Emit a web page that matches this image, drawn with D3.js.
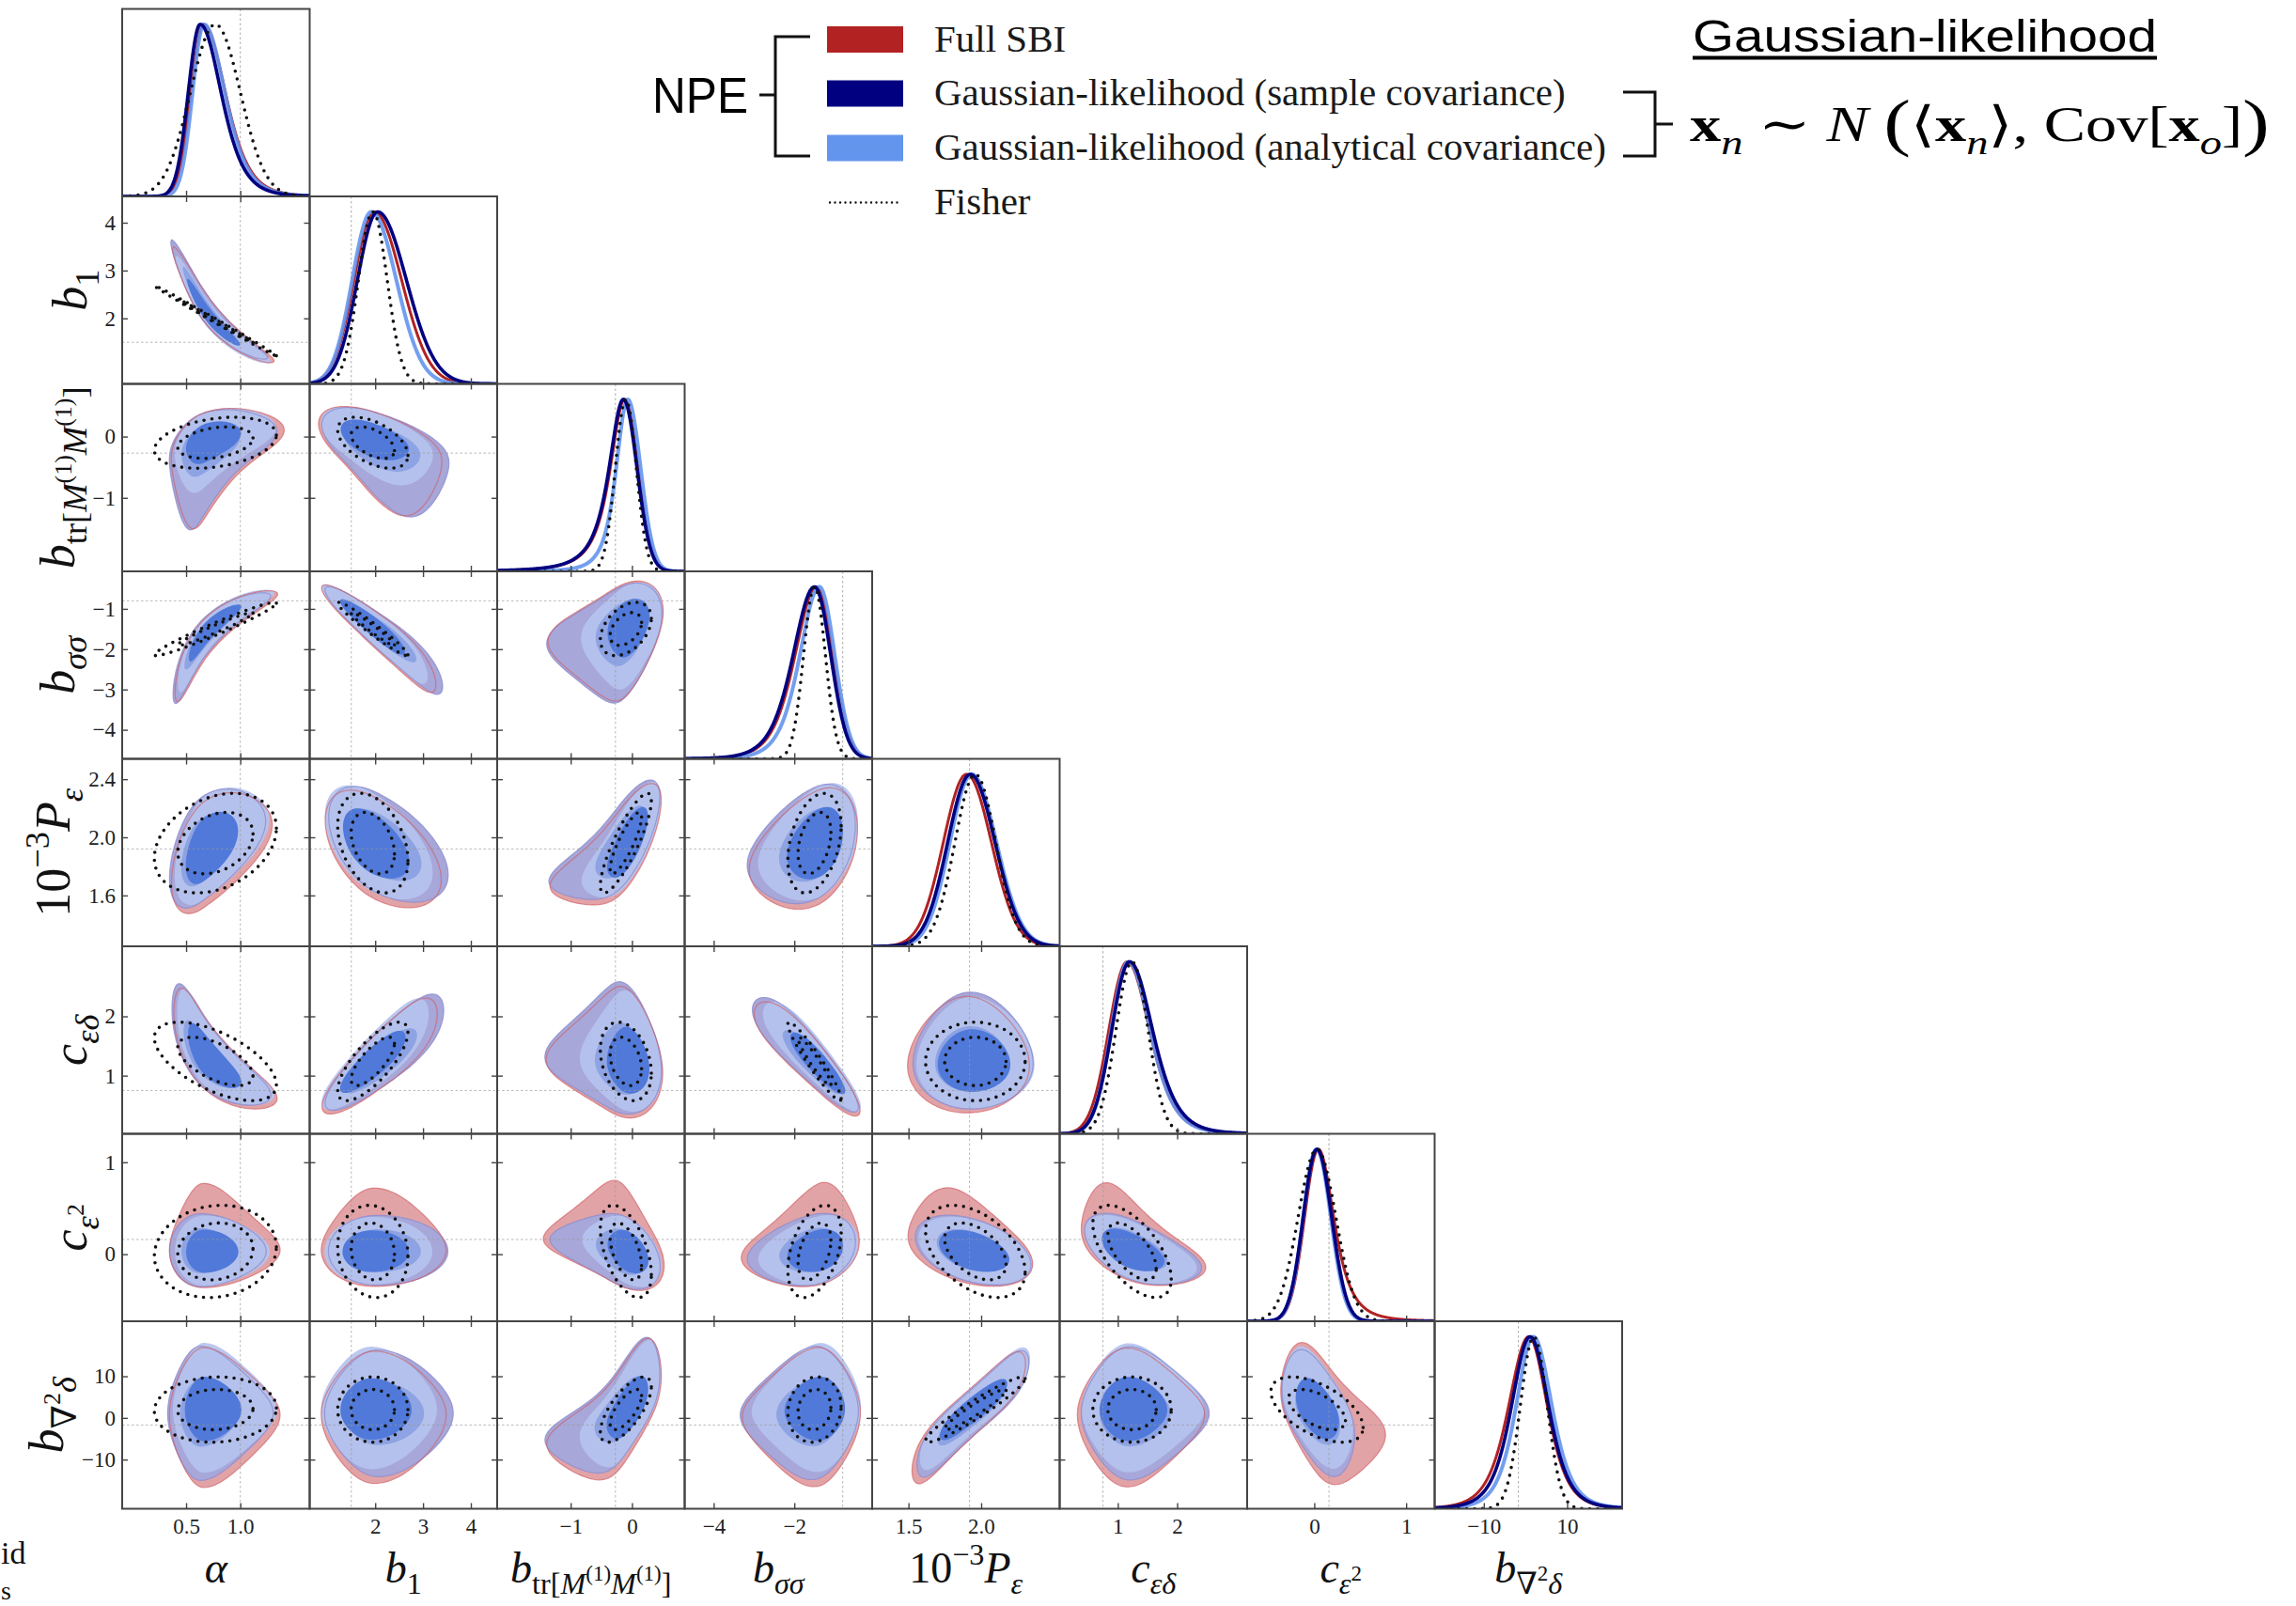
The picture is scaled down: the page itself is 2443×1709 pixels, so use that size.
<!DOCTYPE html>
<html>
<head>
<meta charset="utf-8">
<script src="https://cdn.jsdelivr.net/npm/d3@7"></script>
<style>
  body { margin: 0; background: #fff; }
  svg { display: block; }
</style>
</head>
<body>
<div id="corner"></div>
<script>

// BEGIN data

// axis labels as [text, style] tokens
var paramLabels = [
    [['α', 'i']],
    [['b', 'i'], ['1', 'sub']],
    [['b', 'i'], ['tr[', 'sub'], ['M', 'subi'], ['(1)', 'subsup'], ['M', 'subi'], ['(1)', 'subsup'], [']', 'sub']],
    [['b', 'i'], ['σσ', 'subi']],
    [['10', ''], ['−3', 'sup'], ['P', 'i'], ['ε', 'subi']],
    [['c', 'i'], ['εδ', 'subi']],
    [['c', 'i'], ['ε', 'subi'], ['2', 'subsup']],
    [['b', 'i'], ['∇', 'sub'], ['2', 'subsup'], ['δ', 'subi']]
];

var domains = [[-0.09, 1.64], [0.63, 4.55], [-2.2, 0.86], [-4.72, -0.07],
               [1.25, 2.54], [0.02, 3.18], [-0.73, 1.31], [-21.8, 23.2]];
var xTickValues = [[0.5, 1.0], [2, 3, 4], [-1, 0], [-4, -2], [1.5, 2.0], [1, 2], [0, 1], [-10, 10]];
var yTickValues = [[], [2, 3, 4], [-1, 0], [-4, -3, -2, -1], [1.6, 2.0, 2.4], [1, 2], [0, 1], [-10, 0, 10]];
var tickDecimals = [1, 0, 0, 0, 1, 0, 0, 0];
var truthValues = [1.0, 1.5, -0.27, -0.8, 1.92, 0.75, 0.16, -1.7];

// marginals per parameter: [mode, left width, right width, left tail dof, right tail dof] (0 = gaussian)
var fullSBI = [
    [0.66, 0.115, 0.21, 0, 6],
    [1.98, 0.42, 0.57, 0, 0],
    [-0.12, 0.26, 0.22, 2, 0],
    [-1.45, 0.55, 0.4, 6, 0],
    [1.9, 0.16, 0.17, 0, 0],
    [1.16, 0.31, 0.39, 0, 6],
    [0.045, 0.15, 0.18, 0, 3],
    [0.8, 5.0, 4.6, 5, 5]
];
var sampleCov = [
    [0.63, 0.11, 0.2, 0, 6],
    [2.05, 0.42, 0.6, 0, 0],
    [-0.14, 0.26, 0.22, 2, 0],
    [-1.5, 0.55, 0.4, 6, 0],
    [1.925, 0.155, 0.17, 0, 0],
    [1.2, 0.3, 0.4, 0, 6],
    [0.03, 0.15, 0.16, 0, 0],
    [1.1, 4.6, 4.6, 5, 5]
];
var analyticCov = [
    [0.665, 0.105, 0.2, 0, 6],
    [1.92, 0.4, 0.52, 0, 0],
    [-0.07, 0.2, 0.21, 3, 0],
    [-1.38, 0.5, 0.38, 6, 0],
    [1.935, 0.15, 0.17, 0, 0],
    [1.18, 0.29, 0.38, 0, 6],
    [0.025, 0.145, 0.155, 0, 0],
    [1.9, 4.3, 4.6, 5, 5]
];

var fisherMean = [0.77, 1.95, -0.1, -1.5, 1.96, 1.24, 0.03, 2.0];
var fisherSigma = [0.23, 0.3, 0.17, 0.27, 0.14, 0.27, 0.205, 3.2];

// lower triangle correlations, row = y parameter
var npeCorr = [
    [],
    [-0.97],
    [0.45, -0.55],
    [0.93, -0.93, 0.35],
    [0.5, -0.5, 0.75, 0.35],
    [-0.8, 0.85, -0.15, -0.9, 0.0],
    [0.0, 0.0, -0.4, 0.25, -0.4, -0.55],
    [0.0, 0.0, 0.7, 0.05, 0.9, 0.0, -0.5]
];
var fisherCorr = [
    [],
    [-0.998],
    [0.3, -0.5],
    [0.97, -0.97, 0.4],
    [0.3, -0.35, 0.85, 0.35],
    [-0.6, 0.75, -0.3, -0.95, 0.0],
    [0.1, -0.1, -0.5, 0.4, -0.45, -0.6],
    [0.05, 0.0, 0.7, 0.1, 0.95, 0.0, -0.55]
];

var legendLabels = ['Full SBI', 'Gaussian-likelihood (sample covariance)',
                    'Gaussian-likelihood (analytical covariance)', 'Fisher'];

// END data


// BEGIN layout and style
var W = 2443, H = 1709;
var gridLeft = 130, gridTop = 9.5, cell = 199.5, nPar = 8, tickLen = 6;
var serif = "'Liberation Serif', 'Times New Roman', 'DejaVu Serif', serif";
var sans = "'Liberation Sans', Arial, sans-serif";

var lineColors = ['#b22222', '#000080', '#6495ed'];
var fill95 = ['#e2a3a6', '#a7a7d9', '#b5c3ee'];
var fill68 = ['#d27a80', '#8ea3e3', '#5079d9'];
var series = [fullSBI, sampleCov, analyticCov];

var mathStyles = {
    '':       { shift: 0,     scale: 1,   italic: false, bold: false },
    'i':      { shift: 0,     scale: 1,   italic: true,  bold: false },
    'b':      { shift: 0,     scale: 1,   italic: false, bold: true },
    'sub':    { shift: -0.26, scale: 0.7, italic: false, bold: false },
    'subi':   { shift: -0.26, scale: 0.7, italic: true,  bold: false },
    'sup':    { shift: 0.42,  scale: 0.7, italic: false, bold: false },
    'subsup': { shift: 0.05,  scale: 0.5, italic: false, bold: false },
    'big':    { shift: -0.06, scale: 1.3, italic: false, bold: false }
};
// END layout and style


var svg = d3.select('#corner').append('svg')
    .attr('width', W)
    .attr('height', H)
    .style('font-family', serif);
var defs = svg.append('defs');

var xScales = domains.map(function (d, k) {
    var x0 = gridLeft + k * cell;
    return d3.scaleLinear().domain(d).range([x0, x0 + cell]);
});
var yScales = domains.map(function (d, k) {
    var y0 = gridTop + k * cell;
    return d3.scaleLinear().domain(d).range([y0 + cell, y0]);
});


// BEGIN helpers
function profile(row, x) {
    var left = x < row[0];
    var s = left ? row[1] : row[2];
    var nu = left ? row[3] : row[4];
    var z = (x - row[0]) / s;
    return nu > 0 ? Math.pow(1 + z * z / nu, -(nu + 1) / 2) : Math.exp(-0.5 * z * z);
}

function makeCdf(row, dom) {
    var span = dom[1] - dom[0], lo = dom[0] - 1.5 * span, hi = dom[1] + 1.5 * span;
    var n = 4000, step = (hi - lo) / n;
    var cum = new Float64Array(n + 1), prev = profile(row, lo);
    for (var k = 1; k <= n; k++) {
        var cur = profile(row, lo + k * step);
        cum[k] = cum[k - 1] + 0.5 * (prev + cur);
        prev = cur;
    }
    var tot = cum[n];
    return function (x) {
        var t = (x - lo) / step;
        if (t <= 0) return 0;
        if (t >= n) return 1;
        var k0 = Math.floor(t), f = t - k0;
        return (cum[k0] * (1 - f) + cum[k0 + 1] * f) / tot;
    };
}

// inverse normal cdf (Acklam)
function qnorm(p) {
    var a = [-3.969683028665376e+01, 2.209460984245205e+02, -2.759285104469687e+02, 1.383577518672690e+02, -3.066479806614716e+01, 2.506628277459239e+00];
    var b = [-5.447609879822406e+01, 1.615858368580409e+02, -1.556989798598866e+02, 6.680131188771972e+01, -1.328068155288572e+01];
    var c = [-7.784894002430293e-03, -3.223964580411365e-01, -2.400758277161838e+00, -2.549732539343734e+00, 4.374664141464968e+00, 2.938163982698783e+00];
    var d = [7.784695709041462e-03, 3.224671290700398e-01, 2.445134137142996e+00, 3.754408661907416e+00];
    var pl = 0.02425, q, r;
    p = Math.min(Math.max(p, 1e-10), 1 - 1e-10);
    if (p < pl) {
        q = Math.sqrt(-2 * Math.log(p));
        return (((((c[0] * q + c[1]) * q + c[2]) * q + c[3]) * q + c[4]) * q + c[5]) / ((((d[0] * q + d[1]) * q + d[2]) * q + d[3]) * q + 1);
    }
    if (p > 1 - pl) {
        q = Math.sqrt(-2 * Math.log(1 - p));
        return -(((((c[0] * q + c[1]) * q + c[2]) * q + c[3]) * q + c[4]) * q + c[5]) / ((((d[0] * q + d[1]) * q + d[2]) * q + d[3]) * q + 1);
    }
    q = p - 0.5; r = q * q;
    return (((((a[0] * r + a[1]) * r + a[2]) * r + a[3]) * r + a[4]) * r + a[5]) * q / (((((b[0] * r + b[1]) * r + b[2]) * r + b[3]) * r + b[4]) * r + 1);
}

// 68% and 95% regions of a 2D posterior built from two marginals and a correlation
function densityContours(rowX, rowY, jx, iy, rho) {
    var dX = domains[jx], dY = domains[iy], n = 180;
    var ex = 0.3 * (dX[1] - dX[0]), ey = 0.3 * (dY[1] - dY[0]);
    var gx0 = dX[0] - ex, dx = (dX[1] - dX[0] + 2 * ex) / n;
    var gy0 = dY[0] - ey, dy = (dY[1] - dY[0] + 2 * ey) / n;
    var Fx = makeCdf(rowX, dX), Fy = makeCdf(rowY, dY);
    var u = [], fx = [], v = [], fy = [];
    for (var k = 0; k < n; k++) {
        var x = gx0 + (k + 0.5) * dx, y = gy0 + (k + 0.5) * dy;
        u[k] = qnorm(Fx(x)); fx[k] = profile(rowX, x);
        v[k] = qnorm(Fy(y)); fy[k] = profile(rowY, y);
    }
    var values = new Float64Array(n * n), aa = 1 / (2 * (1 - rho * rho)), total = 0;
    for (var jj = 0; jj < n; jj++) {
        for (var ii = 0; ii < n; ii++) {
            var val = fx[ii] * fy[jj] * Math.exp(-aa * (rho * rho * (u[ii] * u[ii] + v[jj] * v[jj]) - 2 * rho * u[ii] * v[jj]));
            values[ii + jj * n] = val;
            total += val;
        }
    }
    var sorted = Array.from(values).sort(function (p, q) { return q - p; });
    var cum = 0, t68 = 0, t95 = 0;
    for (var k2 = 0; k2 < sorted.length; k2++) {
        cum += sorted[k2];
        if (!t68 && cum >= 0.68 * total) t68 = sorted[k2];
        if (cum >= 0.95 * total) { t95 = sorted[k2]; break; }
    }
    var contours = d3.contours().size([n, n]).thresholds([t95, t68])(values);
    return { contours: contours, gx0: gx0, gy0: gy0, dx: dx, dy: dy };
}

function fisherEllipse(jx, iy, level) {
    var r = Math.sqrt(-2 * Math.log(1 - level));
    var rho = fisherCorr[iy][jx];
    return d3.range(0, 241).map(function (k) {
        var t = 2 * Math.PI * k / 240;
        var a = r * Math.cos(t);
        var b = r * (rho * Math.cos(t) + Math.sqrt(1 - rho * rho) * Math.sin(t));
        return [fisherMean[jx] + fisherSigma[jx] * a, fisherMean[iy] + fisherSigma[iy] * b];
    });
}

function writeMath(text, tokens, fs) {
    var cur = 0;
    tokens.forEach(function (t) {
        var st = mathStyles[t[1]];
        text.append('tspan')
            .attr('dy', (cur - st.shift) * fs)
            .attr('font-size', fs * st.scale)
            .attr('font-style', st.italic ? 'italic' : 'normal')
            .attr('font-weight', st.bold ? 'bold' : 'normal')
            .text(t[0]);
        cur = st.shift;
    });
    return text;
}

function styleAxis(g) {
    g.select('.domain').remove();
    g.attr('font-family', serif).attr('font-size', 23);
    g.selectAll('line').attr('stroke', '#444').attr('stroke-width', 1.4);
    g.selectAll('text').attr('fill', '#222');
}

function fisherStyle(p) {
    p.attr('fill', 'none')
        .attr('stroke', '#111')
        .attr('stroke-width', 3.6)
        .attr('stroke-linecap', 'round')
        .attr('stroke-dasharray', '0 8.5');
}
// END helpers


// BEGIN panels
var tickLabelLeft = [];

function drawPanel(i, j) {
    var x0 = gridLeft + j * cell, y0 = gridTop + i * cell;
    var sx = xScales[j], sy;
    var clipId = 'clip-' + i + '-' + j;
    defs.append('clipPath').attr('id', clipId)
        .append('rect').attr('x', x0).attr('y', y0).attr('width', cell).attr('height', cell);

    var g = svg.append('g').attr('class', 'panel');
    var body = g.append('g').attr('clip-path', 'url(#' + clipId + ')');

    if (i === j) {
        // 1D marginals
        sy = d3.scaleLinear().domain([0, 1.09]).range([y0 + cell, y0]);
        var xs = d3.range(501).map(function (k) { return domains[j][0] + (domains[j][1] - domains[j][0]) * k / 500; });

        body.append('line')
            .attr('x1', sx(truthValues[j])).attr('x2', sx(truthValues[j]))
            .attr('y1', y0).attr('y2', y0 + cell)
            .attr('stroke', '#aaa').attr('stroke-width', 1).attr('stroke-dasharray', '2.5 2.5');

        [[0, 3], [2, 4], [1, 3.6]].forEach(function (o) {
            var rows = series[o[0]];
            body.append('path')
                .datum(xs)
                .attr('d', d3.line()
                    .x(function (d) { return sx(d); })
                    .y(function (d) { return sy(profile(rows[j], d)); }))
                .attr('fill', 'none')
                .attr('stroke', lineColors[o[0]])
                .attr('stroke-width', o[1])
                .attr('stroke-opacity', o[0] === 2 ? 0.9 : 1);
        });

        body.append('path')
            .datum(xs)
            .attr('d', d3.line()
                .x(function (d) { return sx(d); })
                .y(function (d) {
                    var z = (d - fisherMean[j]) / fisherSigma[j];
                    return sy(Math.exp(-0.5 * z * z));
                }))
            .call(fisherStyle);
    } else {
        // 2D contours
        sy = yScales[i];
        var sets = series.map(function (rows) {
            return densityContours(rows[j], rows[i], j, i, npeCorr[i][j]);
        });
        var pathFor = function (set) {
            return d3.geoPath(d3.geoTransform({
                point: function (px, py) {
                    this.stream.point(sx(set.gx0 + px * set.dx), sy(set.gy0 + py * set.dy));
                }
            }));
        };
        // [series, level] with level 0 = 95%, 1 = 68%
        [[0, 0], [0, 1], [1, 0], [2, 0], [1, 1], [2, 1]].forEach(function (L) {
            var set = sets[L[0]];
            body.append('path')
                .attr('d', pathFor(set)(set.contours[L[1]]))
                .attr('fill', L[1] ? fill68[L[0]] : fill95[L[0]])
                .attr('fill-opacity', L[0] === 2 && L[1] === 0 ? 0.92 : 1);
        });
        body.append('path')
            .attr('d', pathFor(sets[1])(sets[1].contours[0]))
            .attr('fill', 'none').attr('stroke', '#8c8cd0').attr('stroke-width', 1.2).attr('stroke-opacity', 0.8);
        body.append('path')
            .attr('d', pathFor(sets[0])(sets[0].contours[0]))
            .attr('fill', 'none').attr('stroke', '#cf5d64').attr('stroke-width', 1.2).attr('stroke-opacity', 0.65);

        body.append('line')
            .attr('x1', sx(truthValues[j])).attr('x2', sx(truthValues[j]))
            .attr('y1', y0).attr('y2', y0 + cell)
            .attr('stroke', '#999').attr('stroke-opacity', 0.7).attr('stroke-width', 1).attr('stroke-dasharray', '2.5 2.5');
        body.append('line')
            .attr('x1', x0).attr('x2', x0 + cell)
            .attr('y1', sy(truthValues[i])).attr('y2', sy(truthValues[i]))
            .attr('stroke', '#999').attr('stroke-opacity', 0.7).attr('stroke-width', 1).attr('stroke-dasharray', '2.5 2.5');

        [0.68, 0.95].forEach(function (lev) {
            body.append('path')
                .datum(fisherEllipse(j, i, lev))
                .attr('d', d3.line()
                    .x(function (d) { return sx(d[0]); })
                    .y(function (d) { return sy(d[1]); })
                    .curve(d3.curveLinearClosed))
                .call(fisherStyle);
        });
    }

    g.append('rect')
        .attr('x', x0).attr('y', y0).attr('width', cell).attr('height', cell)
        .attr('fill', 'none').attr('stroke', '#444').attr('stroke-width', 2);

    // ticks, all pointing inwards
    var fmtX = d3.format('.' + tickDecimals[j] + 'f');
    var bottomAxis = d3.axisBottom(sx).tickValues(xTickValues[j]).tickSize(-tickLen).tickPadding(10)
        .tickFormat(i === nPar - 1 ? fmtX : '');
    g.append('g').attr('transform', 'translate(0,' + (y0 + cell) + ')').call(bottomAxis).call(styleAxis);

    if (i !== j) {
        g.append('g').attr('transform', 'translate(0,' + y0 + ')')
            .call(d3.axisTop(sx).tickValues(xTickValues[j]).tickSize(-tickLen).tickFormat(''))
            .call(styleAxis);
        g.append('g').attr('transform', 'translate(' + (x0 + cell) + ',0)')
            .call(d3.axisRight(sy).tickValues(yTickValues[i]).tickSize(-tickLen).tickFormat(''))
            .call(styleAxis);
        var fmtY = d3.format('.' + tickDecimals[i] + 'f');
        var leftAxis = d3.axisLeft(sy).tickValues(yTickValues[i]).tickSize(-tickLen).tickPadding(7)
            .tickFormat(j === 0 ? fmtY : '');
        var la = g.append('g').attr('transform', 'translate(' + x0 + ',0)').call(leftAxis).call(styleAxis);
        if (j === 0) {
            var widest = d3.max(la.selectAll('text').nodes(), function (n) { return n.getComputedTextLength(); });
            tickLabelLeft[i] = x0 - 7 - widest;
        }
    }
}

for (var i = 0; i < nPar; i++) {
    for (var j = 0; j <= i; j++) {
        drawPanel(i, j);
    }
}
// END panels


// BEGIN axis titles
paramLabels.forEach(function (tokens, k) {
    var t = svg.append('text')
        .attr('x', gridLeft + k * cell + cell / 2)
        .attr('y', 1684)
        .attr('text-anchor', 'middle')
        .attr('fill', '#111');
    writeMath(t, tokens, 46);
});

paramLabels.forEach(function (tokens, k) {
    if (k === 0) return;
    var cy = gridTop + k * cell + cell / 2;
    var t = svg.append('text')
        .attr('transform', 'translate(' + (tickLabelLeft[k] - 20) + ',' + cy + ') rotate(-90)')
        .attr('text-anchor', 'middle')
        .attr('fill', '#111');
    writeMath(t, tokens, 52);
});
// END axis titles


// BEGIN legend
var legend = svg.append('g');
var rowBase = [54.5, 112, 170, 227.5];

legendLabels.forEach(function (label, k) {
    if (k < 3) {
        legend.append('rect')
            .attr('x', 880).attr('y', rowBase[k] - 26.5)
            .attr('width', 81).attr('height', 28)
            .attr('fill', lineColors[k]);
    } else {
        legend.append('line')
            .attr('x1', 883).attr('x2', 960)
            .attr('y1', rowBase[k] - 12).attr('y2', rowBase[k] - 12)
            .attr('stroke', '#111').attr('stroke-width', 2.4)
            .attr('stroke-linecap', 'round').attr('stroke-dasharray', '0 5.5');
    }
    legend.append('text')
        .attr('x', 994).attr('y', rowBase[k])
        .attr('font-size', 41)
        .attr('fill', '#1a1a1a')
        .text(label);
});

legend.append('path')
    .attr('d', 'M862,39 H825 V166 H862 M825,101 H808')
    .attr('fill', 'none').attr('stroke', '#111').attr('stroke-width', 3);
legend.append('text')
    .attr('x', 694).attr('y', 120)
    .attr('font-family', sans).attr('font-size', 54)
    .attr('textLength', 102).attr('lengthAdjust', 'spacingAndGlyphs')
    .attr('fill', '#000')
    .text('NPE');

legend.append('path')
    .attr('d', 'M1727,98 H1761 V166 H1727 M1761,132 H1780')
    .attr('fill', 'none').attr('stroke', '#111').attr('stroke-width', 3);

legend.append('text')
    .attr('x', 1801).attr('y', 54.5)
    .attr('font-family', sans).attr('font-size', 49)
    .attr('textLength', 494).attr('lengthAdjust', 'spacingAndGlyphs')
    .attr('fill', '#000')
    .text('Gaussian-likelihood');
legend.append('rect')
    .attr('x', 1801).attr('y', 59.5).attr('width', 494).attr('height', 4)
    .attr('fill', '#000');

var formula = legend.append('text').attr('x', 0).attr('y', 150).attr('fill', '#000');
writeMath(formula, [['x', 'b'], ['n', 'subi'], [' ∼ ', ''], ['N', 'i'], [' ', ''], ['(', 'big'], ['⟨', ''],
    ['x', 'b'], ['n', 'subi'], ['⟩', ''], [', Cov[', ''], ['x', 'b'], ['o', 'subi'], [']', ''], [')', 'big']], 52);
var fb = formula.node().getBBox();
formula.attr('transform', 'translate(' + (1798 - fb.x * (617 / fb.width)) + ',0) scale(' + (617 / fb.width) + ',1)');
// END legend

// text cut from the neighbouring page
svg.append('text').attr('x', 1).attr('y', 1664).attr('font-size', 34).attr('fill', '#111').text('id');
svg.append('text').attr('x', 1).attr('y', 1702).attr('font-size', 28).attr('fill', '#111').text('s');

</script>
</body>
</html>
